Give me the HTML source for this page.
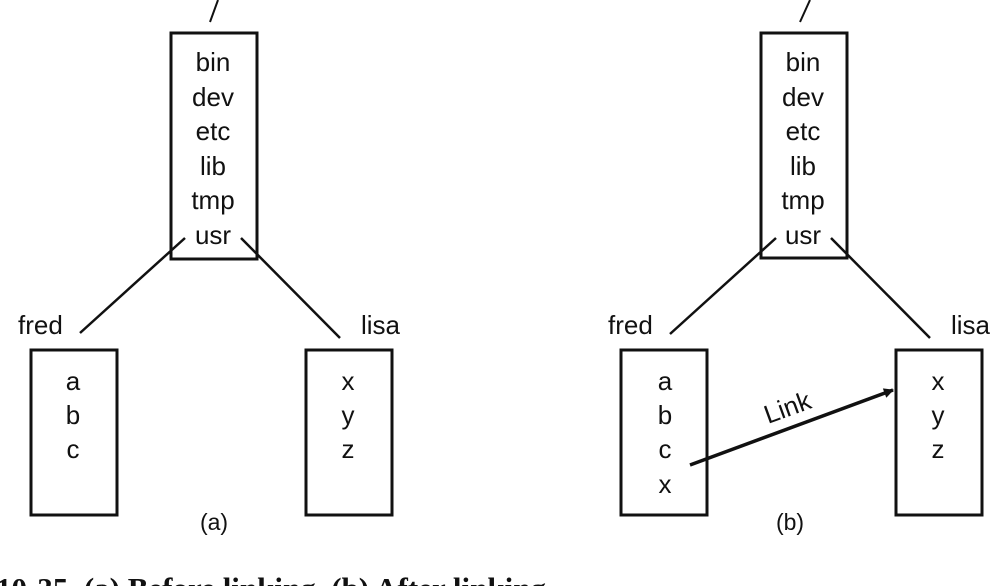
<!DOCTYPE html>
<html><head><meta charset="utf-8"><style>
html,body{margin:0;padding:0;background:#fff;width:996px;height:586px;overflow:hidden}
svg text{font-family:"Liberation Sans",Arial,sans-serif;font-size:26px;fill:#111}
</style></head><body>
<svg width="996" height="586" viewBox="0 0 996 586" xmlns="http://www.w3.org/2000/svg">
<defs><marker id="ah" viewBox="0 0 10 10" refX="9" refY="5" markerWidth="20" markerHeight="10" orient="auto" markerUnits="userSpaceOnUse"><path d="M0,0 L10,5 L0,10 z" fill="#111"/></marker></defs>
<g stroke="#111" fill="none" stroke-width="3">
<line x1="218" y1="0" x2="210" y2="22" stroke-width="2"/>
<rect x="171" y="33" width="86" height="226"/>
<line x1="185" y1="238" x2="80" y2="333" stroke-width="2.5"/>
<line x1="241" y1="238" x2="340" y2="338" stroke-width="2.5"/>
<rect x="31" y="350" width="86" height="165"/>
<rect x="306" y="350" width="86" height="165"/>
<line x1="810" y1="0" x2="800" y2="22" stroke-width="2"/>
<rect x="761" y="33" width="86" height="225"/>
<line x1="776" y1="238" x2="670" y2="334" stroke-width="2.5"/>
<line x1="831" y1="238" x2="930" y2="338" stroke-width="2.5"/>
<rect x="621" y="350" width="86" height="165"/>
<rect x="896" y="350" width="86" height="165"/>
<line x1="690" y1="465" x2="893" y2="390" stroke-width="3.5" marker-end="url(#ah)"/>
</g>
<g text-anchor="middle">
<text x="213" y="71">bin</text><text x="213" y="106">dev</text><text x="213" y="140">etc</text><text x="213" y="175">lib</text><text x="213" y="209">tmp</text><text x="213" y="244">usr</text>
<text x="73" y="390">a</text><text x="73" y="424">b</text><text x="73" y="458">c</text>
<text x="348" y="390">x</text><text x="348" y="424">y</text><text x="348" y="458">z</text>
<text x="803" y="71">bin</text><text x="803" y="106">dev</text><text x="803" y="140">etc</text><text x="803" y="175">lib</text><text x="803" y="209">tmp</text><text x="803" y="244">usr</text>
<text x="665" y="390">a</text><text x="665" y="424">b</text><text x="665" y="458">c</text><text x="665" y="493">x</text>
<text x="938" y="390">x</text><text x="938" y="424">y</text><text x="938" y="458">z</text>
<text x="214" y="530" style="font-size:23px">(a)</text>
<text x="790" y="530" style="font-size:23px">(b)</text>
</g>
<text x="18" y="334">fred</text><text x="361" y="334">lisa</text>
<text x="608" y="334">fred</text><text x="951" y="334">lisa</text>
<text x="768" y="424" transform="rotate(-20 768 424)" style="font-size:26px">Link</text>
<text x="-4" y="599" style="font-family:'Liberation Serif',serif;font-weight:bold;font-size:31px">10-35. (a) Before linking. (b) After linking.</text>
</svg>
</body></html>
